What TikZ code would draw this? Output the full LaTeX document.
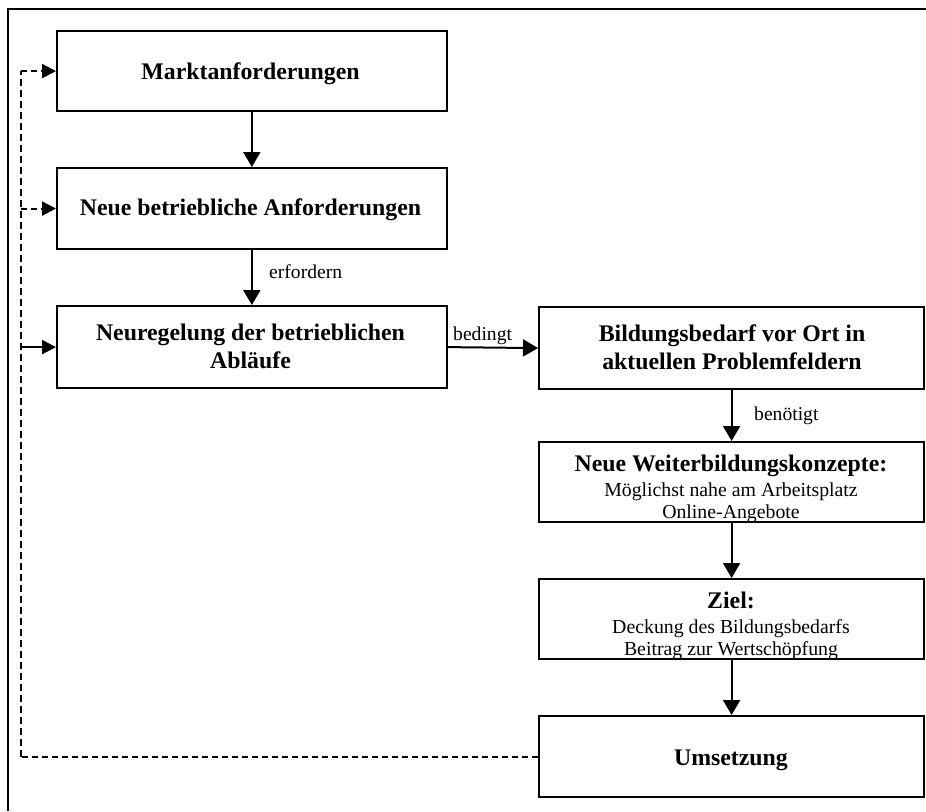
\documentclass[tikz,border=0pt]{standalone}
\usepackage{fontspec}
\setmainfont{Liberation Serif}
\usetikzlibrary{arrows.meta}
\begin{document}
\begin{tikzpicture}[x=1pt,y=-1pt,
  box/.style={draw=black, line width=2.2pt, rectangle, inner sep=0pt, anchor=north west},
  ttl/.style={font=\fontsize{23.8}{28}\selectfont\bfseries, anchor=base, inner sep=0pt},
  txt/.style={font=\fontsize{19.8}{24}\selectfont, anchor=base, inner sep=0pt},
  lbl/.style={font=\fontsize{19.6}{24}\selectfont, anchor=base west, inner sep=0pt},
  flow/.style={line width=2pt, -{Triangle[length=15pt,width=17pt]}},
  fb/.style={line width=1.4pt, dash pattern=on 7pt off 4pt},
  fbline/.style={line width=2.2pt, dash pattern=on 6pt off 4pt},
  fbarrow/.style={fbline, -{Triangle[length=14pt,width=14pt]}},
  fbsolid/.style={line width=2.2pt, -{Triangle[length=14pt,width=14pt]}}
]
\useasboundingbox (0,0) rectangle (926,811);

% open frame: top and left edge
\draw[line width=2.2pt] (8,811) -- (8,9) -- (926,9);

% left column
\node[box, minimum width=389.5pt, minimum height=80pt] (n1) at (56,30) {};
\node[box, minimum width=389.5pt, minimum height=81pt] (n2) at (56,167) {};
\node[box, minimum width=389.5pt, minimum height=82pt] (n3) at (56,305) {};
% right column
\node[box, minimum width=385pt, minimum height=82pt] (n4) at (538,306) {};
\node[box, minimum width=385pt, minimum height=80pt] (n5) at (538,441) {};
\node[box, minimum width=385pt, minimum height=80pt] (n6) at (538,578) {};
\node[box, minimum width=385pt, minimum height=81pt] (n7) at (538,715) {};

% box texts
\node[ttl] (t1) at (250.5,79) {Marktanforderungen};
\node[ttl] (t2) at (250.5,215) {Neue betriebliche Anforderungen};
\node[ttl] (t3a) at (250.5,340) {Neuregelung der betrieblichen};
\node[ttl] (t3b) at (250.5,368) {Abläufe};
\node[ttl] (t4a) at (732,341) {Bildungsbedarf vor Ort in};
\node[ttl] (t4b) at (732,369) {aktuellen Problemfeldern};
\node[ttl] (t5a) at (731,471) {Neue Weiterbildungskonzepte:};
\node[txt] (t5b) at (731,496) {Möglichst nahe am Arbeitsplatz};
\node[txt] (t5c) at (731,518) {Online-Angebote};
\node[ttl] (t6a) at (731,608) {Ziel:};
\node[txt] (t6b) at (731,633) {Deckung des Bildungsbedarfs};
\node[txt] (t6c) at (731,655) {Beitrag zur Wertschöpfung};
\node[ttl] (t7) at (731,765) {Umsetzung};

% flow arrows
\draw[flow] (n1.south) -- (n2.north);
\draw[flow] (n2.south) -- (n3.north);
\draw[flow] (n3.east) -- (n4.west);
\draw[flow] (n4.south) -- (n5.north);
\draw[flow] (n5.south) -- (n6.north);
\draw[flow] (n6.south) -- (n7.north);

% arrow labels
\node[lbl] (l1) at (269,278) {erfordern};
\node[lbl] (l2) at (453,340) {bedingt};
\node[lbl] (l3) at (754,420) {benötigt};

% feedback loop
\coordinate (fbx) at (21,0);
\draw[fbline] (n7.west) -- (n7.west -| fbx);
\draw[fb] (n7.west -| fbx) -- (n1.west -| fbx);
\draw[fbarrow] (n1.west -| fbx) -- (n1.west);
\draw[fbarrow] (n2.west -| fbx) -- (n2.west);
\draw[fbsolid] (n3.west -| fbx) -- (n3.west);
\end{tikzpicture}
\end{document}
